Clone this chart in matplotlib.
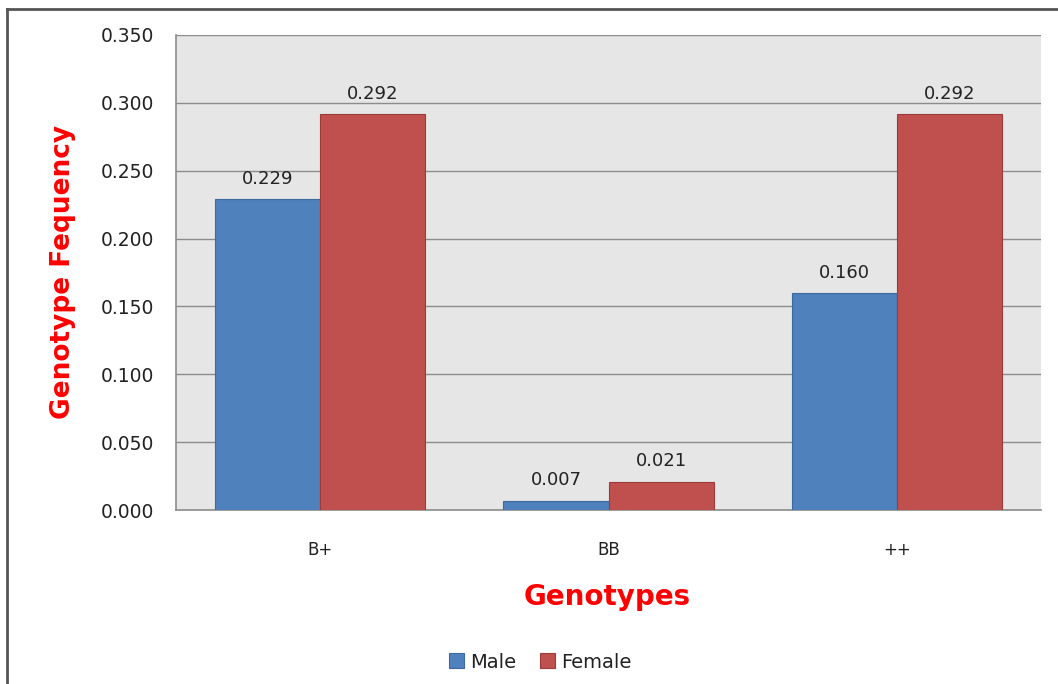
import matplotlib
matplotlib.use("Agg")
import matplotlib.pyplot as plt
import numpy as np
from matplotlib.lines import Line2D

categories = ["B+", "BB", "++"]
male = [0.229, 0.007, 0.160]
female = [0.292, 0.021, 0.292]
male_labels = ["0.229", "0.007", "0.160"]
female_labels = ["0.292", "0.021", "0.292"]
yticks = [0.0, 0.05, 0.10, 0.15, 0.20, 0.25, 0.30, 0.35]

W, H = 1058, 684
fig = plt.figure(figsize=(W / 100, H / 100), dpi=100)
fig.patch.set_facecolor("white")

# outer frame (left and top edges)
fig.add_artist(Line2D([6.5 / W, 6.5 / W], [0, 1 - 9 / H], transform=fig.transFigure,
                      color="#555555", lw=2))
fig.add_artist(Line2D([6.5 / W, 1.0], [1 - 9 / H, 1 - 9 / H], transform=fig.transFigure,
                      color="#555555", lw=2))

ax = fig.add_axes([176 / W, 1 - 510 / H, (1041 - 176) / W, (510 - 35) / H])
ax.set_facecolor("#E6E6E6")

x = np.arange(len(categories))
bw = 0.365
b1 = ax.bar(x - bw / 2, male, bw, color="#4F81BD", edgecolor="#3D6A9E", lw=0.8, label="Male", zorder=3)
b2 = ax.bar(x + bw / 2, female, bw, color="#C0504D", edgecolor="#9C3B38", lw=0.8, label="Female", zorder=3)

for rect, lab in zip(b1, male_labels):
    ax.annotate(lab, (rect.get_x() + rect.get_width() / 2, rect.get_height()),
                xytext=(0, 8), textcoords="offset points", ha="center", va="bottom",
                fontsize=13, color="#222222")
for rect, lab in zip(b2, female_labels):
    ax.annotate(lab, (rect.get_x() + rect.get_width() / 2, rect.get_height()),
                xytext=(0, 8), textcoords="offset points", ha="center", va="bottom",
                fontsize=13, color="#222222")

ax.set_xlim(-0.5, 2.5)
ax.set_ylim(0, 0.35)
ax.set_yticks(yticks)
ax.set_yticklabels([f"{v:.3f}" for v in yticks], fontsize=13.5, color="#222222")
ax.set_xticks(x)
ax.set_xticklabels(categories, fontsize=12, color="#222222")
ax.tick_params(axis="y", length=0, pad=16)
ax.tick_params(axis="x", length=0, pad=22)
ax.yaxis.grid(True, color="#8C8C8C", lw=1, zorder=0)
ax.set_axisbelow(True)
for s in ["top", "right"]:
    ax.spines[s].set_visible(False)
for s in ["left", "bottom"]:
    ax.spines[s].set_color("#8C8C8C")
    ax.spines[s].set_linewidth(1.2)

fig.text(63 / W, 1 - 272 / H, "Genotype Fequency", rotation=90, ha="center", va="center",
         fontsize=19, fontweight="bold", color="#FF0000", family="DejaVu Sans")
fig.text(607 / W, 1 - 597 / H, "Genotypes", ha="center", va="center",
         fontsize=20, fontweight="bold", color="#FF0000", family="DejaVu Sans")

leg = fig.legend(handles=[b1, b2], labels=["Male", "Female"], loc="center",
                 bbox_to_anchor=(540 / W, 1 - 662 / H), ncol=2, frameon=False,
                 fontsize=14, handlelength=0.8, handleheight=0.8, handletextpad=0.3,
                 columnspacing=1.2)
for t in leg.get_texts():
    t.set_color("#222222")

fig.savefig("out.png", dpi=100, facecolor="white")
